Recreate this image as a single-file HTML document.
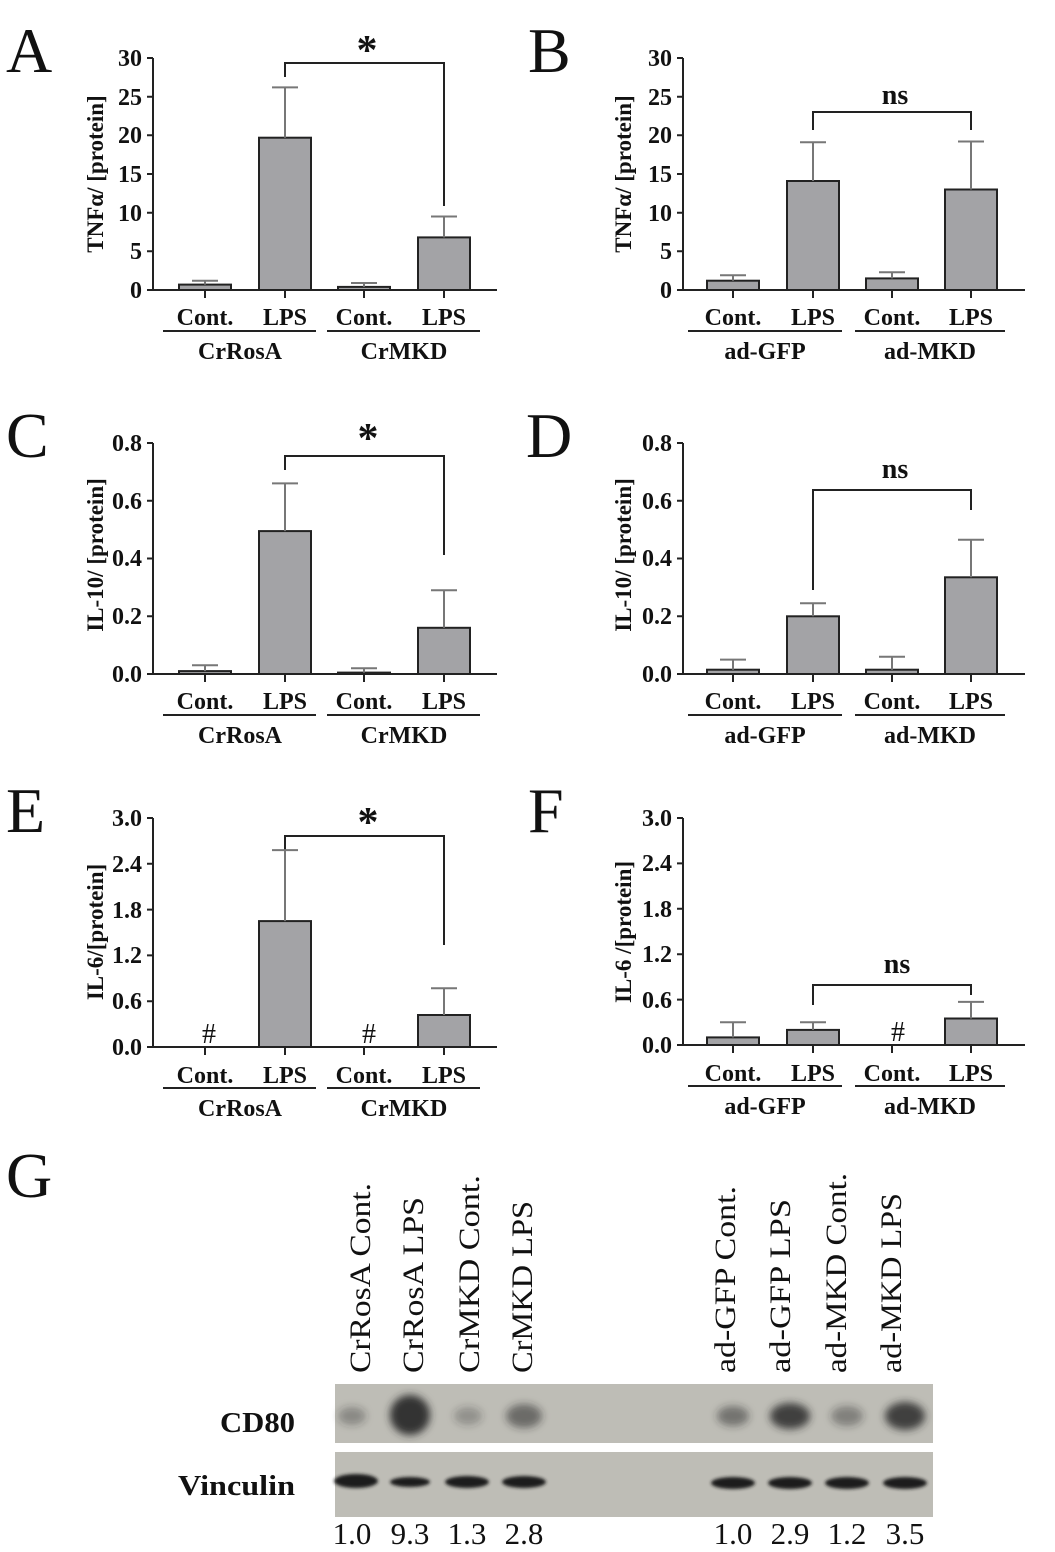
<!DOCTYPE html>
<html><head><meta charset="utf-8"><style>
html,body{margin:0;padding:0;background:#fff}
svg{display:block}
text{font-family:"Liberation Serif",serif;fill:#111}
.b{font-weight:bold}
</style></head><body>
<svg width="1055" height="1552" viewBox="0 0 1055 1552" xmlns="http://www.w3.org/2000/svg">
<defs>
<filter id="bl" x="-50%" y="-50%" width="200%" height="200%"><feGaussianBlur stdDeviation="4"/></filter>
<filter id="bl2" x="-50%" y="-50%" width="200%" height="200%"><feGaussianBlur stdDeviation="1.5"/></filter>
</defs>
<g stroke="#222" stroke-width="2" fill="none">
<path d="M153 58V290H497M147 58H153M147 96.7H153M147 135.3H153M147 174H153M147 212.7H153M147 251.3H153M147 290H153M205 290v8M285 290v8M364 290v8M444 290v8"/>
<path d="M683 58V290H1025M677 58H683M677 96.7H683M677 135.3H683M677 174H683M677 212.7H683M677 251.3H683M677 290H683M733 290v8M813 290v8M892 290v8M971 290v8"/>
<path d="M153 443V674H497M147 443H153M147 500.8H153M147 558.5H153M147 616.3H153M147 674H153M205 674v8M285 674v8M364 674v8M444 674v8"/>
<path d="M683 443V674H1025M677 443H683M677 500.8H683M677 558.5H683M677 616.3H683M677 674H683M733 674v8M813 674v8M892 674v8M971 674v8"/>
<path d="M153 818V1047H497M147 818H153M147 863.8H153M147 909.6H153M147 955.4H153M147 1001.2H153M147 1047H153M205 1047v8M285 1047v8M364 1047v8M444 1047v8"/>
<path d="M683 818V1045H1025M677 818H683M677 863.4H683M677 908.8H683M677 954.2H683M677 999.6H683M677 1045H683M733 1045v8M813 1045v8M892 1045v8M971 1045v8"/>
<path d="M163 331H316M327 331H480M688 331H842M855 331H1005M163 715H316M327 715H480M688 715H842M855 715H1005M163 1088H316M327 1088H480M688 1086H842M855 1086H1005"/>
<path d="M285 77V63H444V206M813 130V112H971V130M285 470V456H444V555M813 590V490H971V510M285 850V836H444V945M813 1005V985H971V995"/>
</g>
<g fill="#a3a3a6" stroke="#222" stroke-width="2">
<rect x="179" y="284.6" width="52" height="5.4"/><rect x="259" y="137.7" width="52" height="152.3"/><rect x="338" y="286.9" width="52" height="3.1"/><rect x="418" y="237.4" width="52" height="52.6"/>
<rect x="707" y="280.7" width="52" height="9.3"/><rect x="787" y="181" width="52" height="109"/><rect x="866" y="278.4" width="52" height="11.6"/><rect x="945" y="189.5" width="52" height="100.5"/>
<rect x="179" y="671.1" width="52" height="2.9"/><rect x="259" y="531.1" width="52" height="142.9"/><rect x="338" y="672.6" width="52" height="1.4"/><rect x="418" y="627.8" width="52" height="46.2"/>
<rect x="707" y="669.7" width="52" height="4.3"/><rect x="787" y="616.3" width="52" height="57.7"/><rect x="866" y="669.7" width="52" height="4.3"/><rect x="945" y="577.3" width="52" height="96.7"/>
<rect x="259" y="921.1" width="52" height="125.9"/><rect x="418" y="1015" width="52" height="32"/>
<rect x="707" y="1037.4" width="52" height="7.6"/><rect x="787" y="1029.9" width="52" height="15.1"/><rect x="945" y="1018.5" width="52" height="26.5"/>
</g>
<g stroke="#777" stroke-width="2" fill="none">
<path d="M205 284.6V280.7M192 280.7H218M285 137.7V87.4M272 87.4H298M364 286.9V283M351 283H377M444 237.4V216.5M431 216.5H457"/>
<path d="M733 280.7V275.3M720 275.3H746M813 181V142.3M800 142.3H826M892 278.4V272.2M879 272.2H905M971 189.5V141.5M958 141.5H984"/>
<path d="M205 671.1V665.3M192 665.3H218M285 531.1V483.4M272 483.4H298M364 672.6V668.2M351 668.2H377M444 627.8V590.3M431 590.3H457"/>
<path d="M733 669.7V659.6M720 659.6H746M813 616.3V603.3M800 603.3H826M892 669.7V656.7M879 656.7H905M971 577.3V539.7M958 539.7H984"/>
<path d="M285 921.1V850.1M272 850.1H298M444 1015V988.2M431 988.2H457"/>
<path d="M733 1037.4V1022.3M720 1022.3H746M813 1029.9V1022.3M800 1022.3H826M971 1018.5V1001.9M958 1001.9H984"/>
</g>
<g font-size="64">
<text x="6" y="72">A</text><text x="528" y="72">B</text>
<text x="6" y="457">C</text><text x="526" y="457">D</text>
<text x="6" y="832">E</text><text x="528" y="832">F</text>
<text x="6" y="1197">G</text>
</g>
<g class="b" font-size="24" text-anchor="end">
<text x="142" y="66">30</text><text x="142" y="105">25</text><text x="142" y="143">20</text><text x="142" y="182">15</text><text x="142" y="221">10</text><text x="142" y="259">5</text><text x="142" y="298">0</text>
<text x="672" y="66">30</text><text x="672" y="105">25</text><text x="672" y="143">20</text><text x="672" y="182">15</text><text x="672" y="221">10</text><text x="672" y="259">5</text><text x="672" y="298">0</text>
<text x="142" y="451">0.8</text><text x="142" y="509">0.6</text><text x="142" y="566">0.4</text><text x="142" y="624">0.2</text><text x="142" y="682">0.0</text>
<text x="672" y="451">0.8</text><text x="672" y="509">0.6</text><text x="672" y="566">0.4</text><text x="672" y="624">0.2</text><text x="672" y="682">0.0</text>
<text x="142" y="826">3.0</text><text x="142" y="872">2.4</text><text x="142" y="918">1.8</text><text x="142" y="963">1.2</text><text x="142" y="1009">0.6</text><text x="142" y="1055">0.0</text>
<text x="672" y="826">3.0</text><text x="672" y="871">2.4</text><text x="672" y="917">1.8</text><text x="672" y="962">1.2</text><text x="672" y="1008">0.6</text><text x="672" y="1053">0.0</text>
</g>
<g class="b" font-size="23" text-anchor="middle">
<text transform="translate(103 174) rotate(-90)">TNFα/ [protein]</text>
<text transform="translate(631 174) rotate(-90)">TNFα/ [protein]</text>
<text transform="translate(103 555) rotate(-90)">IL-10/ [protein]</text>
<text transform="translate(631 555) rotate(-90)">IL-10/ [protein]</text>
<text transform="translate(103 932) rotate(-90)">IL-6/[protein]</text>
<text transform="translate(631 932) rotate(-90)">IL-6 /[protein]</text>
</g>
<g class="b" font-size="24" text-anchor="middle">
<text x="205" y="325">Cont.</text><text x="285" y="325">LPS</text><text x="364" y="325">Cont.</text><text x="444" y="325">LPS</text>
<text x="240" y="359">CrRosA</text><text x="404" y="359">CrMKD</text>
<text x="733" y="325">Cont.</text><text x="813" y="325">LPS</text><text x="892" y="325">Cont.</text><text x="971" y="325">LPS</text>
<text x="765" y="359">ad-GFP</text><text x="930" y="359">ad-MKD</text>
<text x="205" y="709">Cont.</text><text x="285" y="709">LPS</text><text x="364" y="709">Cont.</text><text x="444" y="709">LPS</text>
<text x="240" y="743">CrRosA</text><text x="404" y="743">CrMKD</text>
<text x="733" y="709">Cont.</text><text x="813" y="709">LPS</text><text x="892" y="709">Cont.</text><text x="971" y="709">LPS</text>
<text x="765" y="743">ad-GFP</text><text x="930" y="743">ad-MKD</text>
<text x="205" y="1083">Cont.</text><text x="285" y="1083">LPS</text><text x="364" y="1083">Cont.</text><text x="444" y="1083">LPS</text>
<text x="240" y="1116">CrRosA</text><text x="404" y="1116">CrMKD</text>
<text x="733" y="1081">Cont.</text><text x="813" y="1081">LPS</text><text x="892" y="1081">Cont.</text><text x="971" y="1081">LPS</text>
<text x="765" y="1114">ad-GFP</text><text x="930" y="1114">ad-MKD</text>
</g>
<g class="b" text-anchor="middle">
<text x="367" y="64" font-size="42">*</text>
<text x="895" y="104" font-size="28">ns</text>
<text x="368" y="452" font-size="42">*</text>
<text x="895" y="478" font-size="28">ns</text>
<text x="368" y="836" font-size="42">*</text>
<text x="897" y="973" font-size="28">ns</text>
<text x="209" y="1043" font-size="28" font-weight="normal">#</text>
<text x="369" y="1043" font-size="28" font-weight="normal">#</text>
<text x="898" y="1041" font-size="28" font-weight="normal">#</text>
</g>
<g font-size="30">
<text transform="translate(370 1373) rotate(-90)" textLength="190" lengthAdjust="spacingAndGlyphs">CrRosA Cont.</text>
<text transform="translate(423 1373) rotate(-90)" textLength="176" lengthAdjust="spacingAndGlyphs">CrRosA LPS</text>
<text transform="translate(479 1373) rotate(-90)" textLength="198" lengthAdjust="spacingAndGlyphs">CrMKD Cont.</text>
<text transform="translate(532 1373) rotate(-90)" textLength="172" lengthAdjust="spacingAndGlyphs">CrMKD LPS</text>
<text transform="translate(735 1373) rotate(-90)" textLength="187" lengthAdjust="spacingAndGlyphs">ad-GFP Cont.</text>
<text transform="translate(790 1373) rotate(-90)" textLength="174" lengthAdjust="spacingAndGlyphs">ad-GFP LPS</text>
<text transform="translate(846 1373) rotate(-90)" textLength="200" lengthAdjust="spacingAndGlyphs">ad-MKD Cont.</text>
<text transform="translate(901 1373) rotate(-90)" textLength="180" lengthAdjust="spacingAndGlyphs">ad-MKD LPS</text>
</g>
<rect x="335" y="1384" width="598" height="59" fill="#bebdb6"/>
<rect x="335" y="1452" width="598" height="65" fill="#bebdb6"/>
<g filter="url(#bl)" fill="#2a2a2a">
<ellipse cx="352" cy="1416" rx="14" ry="9" opacity="0.35"/>
<ellipse cx="410" cy="1415" rx="20" ry="20" opacity="0.95"/>
<ellipse cx="468" cy="1416" rx="14" ry="9" opacity="0.3"/>
<ellipse cx="524" cy="1416" rx="18" ry="12" opacity="0.55"/>
<ellipse cx="733" cy="1416" rx="16" ry="10" opacity="0.5"/>
<ellipse cx="790" cy="1416" rx="20" ry="13" opacity="0.85"/>
<ellipse cx="847" cy="1416" rx="16" ry="10" opacity="0.4"/>
<ellipse cx="905" cy="1416" rx="20" ry="14" opacity="0.85"/>
</g>
<g filter="url(#bl2)" fill="#1e1e1e">
<ellipse cx="356" cy="1481" rx="22" ry="7"/>
<ellipse cx="410" cy="1482" rx="20" ry="5"/>
<ellipse cx="467" cy="1482" rx="22" ry="6"/>
<ellipse cx="524" cy="1482" rx="22" ry="6"/>
<ellipse cx="733" cy="1483" rx="22" ry="6"/>
<ellipse cx="790" cy="1483" rx="22" ry="6"/>
<ellipse cx="847" cy="1483" rx="22" ry="6"/>
<ellipse cx="905" cy="1483" rx="22" ry="6"/>
</g>
<g class="b" font-size="29" text-anchor="end">
<text x="295" y="1432" textLength="75" lengthAdjust="spacingAndGlyphs">CD80</text>
<text x="295" y="1495" textLength="117" lengthAdjust="spacingAndGlyphs">Vinculin</text>
</g>
<g font-size="31" text-anchor="middle">
<text x="352" y="1544">1.0</text><text x="410" y="1544">9.3</text><text x="467" y="1544">1.3</text><text x="524" y="1544">2.8</text>
<text x="733" y="1544">1.0</text><text x="790" y="1544">2.9</text><text x="847" y="1544">1.2</text><text x="905" y="1544">3.5</text>
</g>
</svg>
</body></html>
